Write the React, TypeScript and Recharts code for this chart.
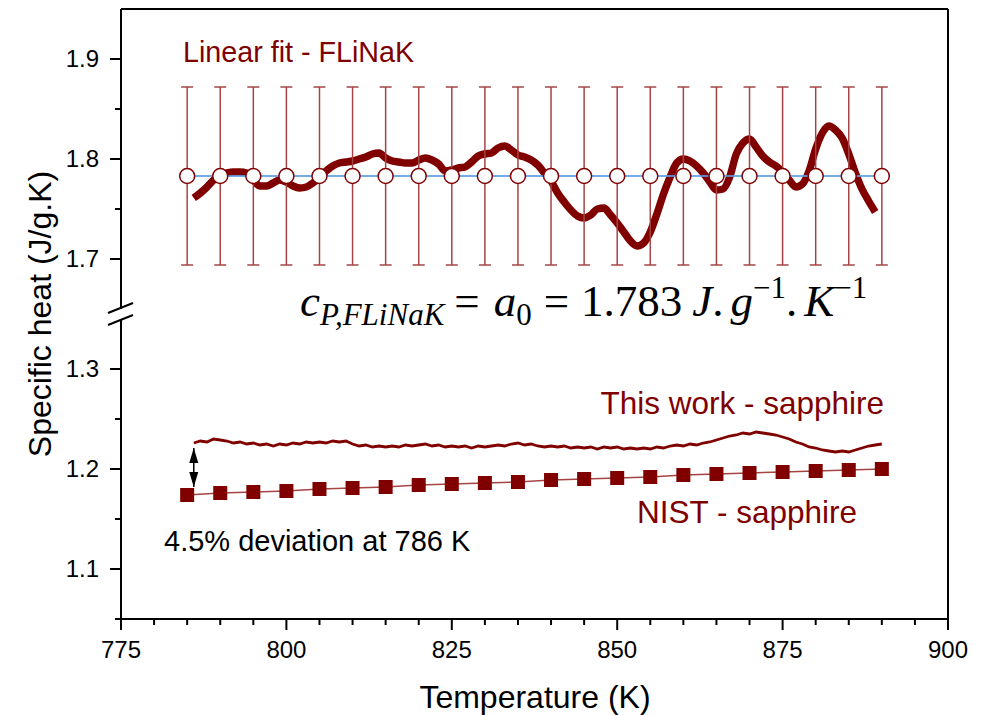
import React from 'react';
import { ComposedChart, Line, Scatter, XAxis, YAxis, ErrorBar, ReferenceLine } from 'recharts';

// ---------- data ----------
const FIT_T = [785, 790, 795, 800, 805, 810, 815, 820, 825, 830, 835, 840, 845, 850, 855, 860, 865, 870, 875, 880, 885, 890];
const FIT_CP = 1.783;
const FIT_ERR = 0.089;

const FLINAK_T = [786, 787, 788, 789, 790, 791, 792, 793, 794, 795, 796, 797, 798, 799, 800, 801, 802, 803, 804, 805, 806, 807, 808, 809, 810, 811, 812, 813, 814, 815, 816, 817, 818, 819, 820, 821, 822, 823, 824, 825, 826, 827, 828, 829, 830, 831, 832, 833, 834, 835, 836, 837, 838, 839, 840, 841, 842, 843, 844, 845, 846, 847, 848, 849, 850, 851, 852, 853, 854, 855, 856, 857, 858, 859, 860, 861, 862, 863, 864, 865, 866, 867, 868, 869, 870, 871, 872, 873, 874, 875, 876, 877, 878, 879, 880, 881, 882, 883, 884, 885, 886, 887, 888, 889];
const FLINAK_CP = [1.761, 1.766, 1.772, 1.779, 1.784, 1.786, 1.787, 1.787, 1.786, 1.779, 1.773, 1.773, 1.776, 1.779, 1.777, 1.773, 1.771, 1.772, 1.776, 1.781, 1.788, 1.793, 1.796, 1.797, 1.798, 1.800, 1.802, 1.805, 1.806, 1.801, 1.798, 1.797, 1.796, 1.796, 1.799, 1.801, 1.799, 1.795, 1.788, 1.789, 1.791, 1.792, 1.797, 1.803, 1.805, 1.806, 1.811, 1.813, 1.809, 1.804, 1.802, 1.799, 1.794, 1.786, 1.778, 1.766, 1.757, 1.749, 1.743, 1.741, 1.744, 1.750, 1.751, 1.744, 1.736, 1.727, 1.718, 1.713, 1.716, 1.727, 1.745, 1.765, 1.782, 1.796, 1.800, 1.798, 1.793, 1.786, 1.777, 1.769, 1.770, 1.782, 1.805, 1.816, 1.820, 1.812, 1.803, 1.797, 1.793, 1.787, 1.779, 1.772, 1.775, 1.788, 1.810, 1.826, 1.833, 1.829, 1.821, 1.805, 1.786, 1.770, 1.758, 1.747];

const SAPPHIRE_T = [786, 787, 788, 789, 790, 791, 792, 793, 794, 795, 796, 797, 798, 799, 800, 801, 802, 803, 804, 805, 806, 807, 808, 809, 810, 811, 812, 813, 814, 815, 816, 817, 818, 819, 820, 821, 822, 823, 824, 825, 826, 827, 828, 829, 830, 831, 832, 833, 834, 835, 836, 837, 838, 839, 840, 841, 842, 843, 844, 845, 846, 847, 848, 849, 850, 851, 852, 853, 854, 855, 856, 857, 858, 859, 860, 861, 862, 863, 864, 865, 866, 867, 868, 869, 870, 871, 872, 873, 874, 875, 876, 877, 878, 879, 880, 881, 882, 883, 884, 885, 886, 887, 888, 889, 890];
const SAPPHIRE_CP = [1.226, 1.228, 1.227, 1.230, 1.229, 1.228, 1.226, 1.227, 1.225, 1.226, 1.224, 1.225, 1.223, 1.225, 1.224, 1.226, 1.225, 1.227, 1.226, 1.227, 1.226, 1.228, 1.227, 1.228, 1.225, 1.223, 1.224, 1.222, 1.223, 1.222, 1.223, 1.222, 1.224, 1.223, 1.224, 1.225, 1.223, 1.224, 1.222, 1.223, 1.222, 1.223, 1.221, 1.223, 1.222, 1.223, 1.224, 1.223, 1.225, 1.226, 1.224, 1.225, 1.223, 1.222, 1.223, 1.222, 1.223, 1.221, 1.222, 1.221, 1.222, 1.220, 1.222, 1.221, 1.222, 1.220, 1.221, 1.220, 1.221, 1.220, 1.222, 1.221, 1.223, 1.224, 1.223, 1.225, 1.224, 1.226, 1.227, 1.229, 1.231, 1.233, 1.234, 1.236, 1.235, 1.237, 1.236, 1.235, 1.234, 1.232, 1.230, 1.227, 1.225, 1.222, 1.221, 1.219, 1.218, 1.217, 1.218, 1.217, 1.219, 1.221, 1.223, 1.224, 1.225];

const NIST_T = [785, 790, 795, 800, 805, 810, 815, 820, 825, 830, 835, 840, 845, 850, 855, 860, 865, 870, 875, 880, 885, 890];
const NIST_CP = [1.174, 1.176, 1.177, 1.178, 1.180, 1.181, 1.182, 1.184, 1.185, 1.186, 1.187, 1.189, 1.190, 1.191, 1.192, 1.194, 1.195, 1.196, 1.197, 1.198, 1.199, 1.200];

const ARROW_T = 786;
const ARROW_TOP = 1.221;
const ARROW_BOTTOM = 1.182;

const X_TICKS = [775, 780, 785, 790, 795, 800, 805, 810, 815, 820, 825, 830, 835, 840, 845, 850, 855, 860, 865, 870, 875, 880, 885, 890, 895, 900];
const X_LABELS = [775, 800, 825, 850, 875, 900];
const Y_TICKS_UPPER = [1.7, 1.75, 1.8, 1.85, 1.9];
const Y_TICKS_LOWER = [1.05, 1.1, 1.15, 1.2, 1.25, 1.3];
const Y_LABELS = [1.1, 1.2, 1.3, 1.7, 1.8, 1.9];

// ---------- derived tables ----------
const fitData = FIT_T.map((T) => ({ T, cp: FIT_CP, err: FIT_ERR }));
const flinakData = FLINAK_T.map((T, i) => ({ T, cp: FLINAK_CP[i] }));
const sapphireData = SAPPHIRE_T.map((T, i) => ({ T, cp: SAPPHIRE_CP[i] }));
const nistData = NIST_T.map((T, i) => ({ T, cp: NIST_CP[i] }));
const arrowData = [{ T: ARROW_T, cp: ARROW_TOP }, { T: ARROW_T, cp: ARROW_BOTTOM }];
const arrowTopData = [{ T: ARROW_T, cp: ARROW_TOP }];
const arrowBottomData = [{ T: ARROW_T, cp: ARROW_BOTTOM }];

const SANS = "'Liberation Sans', Arial, Helvetica, sans-serif";
const SERIF = "'Liberation Serif', 'Times New Roman', serif";
const RED = '#800000';
const BAR_RED = '#a64444';

const XTick = (props: any) => {
  const { x, y, payload } = props;
  const v = payload.value;
  const major = X_LABELS.includes(v);
  return (
    <g>
      <line x1={x} x2={x} y1={y} y2={y + (major ? 11 : 6)} stroke="#000" strokeWidth={2} />
      {major && (
        <text x={x} y={y + 39} textAnchor="middle" fontSize={24} fontFamily={SANS} fill="#000">
          {v}
        </text>
      )}
    </g>
  );
};

const YTick = (props: any) => {
  const { x, y, payload } = props;
  const v = payload.value;
  const major = Y_LABELS.includes(v);
  return (
    <g>
      <line x1={x - (major ? 11 : 6)} x2={x} y1={y} y2={y} stroke="#000" strokeWidth={2} />
      {major && (
        <text x={x - 22} y={y} dy="0.35em" textAnchor="end" fontSize={24} fontFamily={SANS} fill="#000">
          {v.toFixed(1)}
        </text>
      )}
    </g>
  );
};

const OpenCircle = (props: any) => {
  const { cx, cy } = props;
  return <circle cx={cx} cy={cy} r={7.5} fill="#fff" stroke={RED} strokeWidth={1.5} />;
};

const Square = (props: any) => {
  const { cx, cy } = props;
  return <rect x={cx - 7} y={cy - 7} width={14} height={14} fill={RED} />;
};

const HeadUp = (props: any) => {
  const { cx, cy } = props;
  return <polygon points={`${cx},${cy} ${cx - 4.5},${cy + 15} ${cx + 4.5},${cy + 15}`} fill="#000" />;
};

const HeadDown = (props: any) => {
  const { cx, cy } = props;
  return <polygon points={`${cx},${cy} ${cx - 4.5},${cy - 15} ${cx + 4.5},${cy - 15}`} fill="#000" />;
};

const axisLine = { stroke: '#000', strokeWidth: 2 };

export default function App() {
  return (
    <div style={{ position: 'absolute', left: 0, top: 0, width: 992, height: 715, background: '#fff', overflow: 'hidden' }}>
      {/* upper panel */}
      <div style={{ position: 'absolute', left: 0, top: 0 }}>
        <ComposedChart width={992} height={314} margin={{ top: 9, right: 44, bottom: 0, left: 0 }}>
          <XAxis type="number" dataKey="T" domain={[775, 900]} allowDataOverflow hide />
          <YAxis
            type="number"
            domain={[1.645, 1.95]}
            allowDataOverflow
            ticks={Y_TICKS_UPPER}
            interval={0}
            width={121}
            tickSize={0}
            tickMargin={0}
            tickLine={false}
            axisLine={axisLine}
            tick={<YTick />}
          />
          <ReferenceLine y={1.95} stroke="#000" strokeWidth={2} ifOverflow="visible" />
          <ReferenceLine x={900} stroke="#000" strokeWidth={2} ifOverflow="visible" />
          <Line data={flinakData} dataKey="cp" type="monotone" stroke={RED} strokeWidth={7.5} dot={false} isAnimationActive={false} strokeLinecap="butt" strokeLinejoin="round" />
          <Line data={fitData} dataKey="cp" stroke="#5b9be6" strokeOpacity={0.85} strokeWidth={2} dot={false} isAnimationActive={false} />
          <Scatter data={fitData} dataKey="cp" shape={<OpenCircle />} isAnimationActive={false}>
            <ErrorBar dataKey="err" direction="y" width={6} stroke={BAR_RED} strokeWidth={1.5} />
          </Scatter>
        </ComposedChart>
      </div>

      {/* lower panel */}
      <div style={{ position: 'absolute', left: 0, top: 314 }}>
        <ComposedChart width={992} height={401} margin={{ top: 0, right: 44, bottom: 0, left: 0 }}>
          <XAxis
            type="number"
            dataKey="T"
            domain={[775, 900]}
            allowDataOverflow
            ticks={X_TICKS}
            interval={0}
            height={96}
            tickSize={0}
            tickMargin={0}
            tickLine={false}
            axisLine={axisLine}
            tick={<XTick />}
          />
          <YAxis
            type="number"
            domain={[1.05, 1.355]}
            allowDataOverflow
            ticks={Y_TICKS_LOWER}
            interval={0}
            width={121}
            tickSize={0}
            tickMargin={0}
            tickLine={false}
            axisLine={axisLine}
            tick={<YTick />}
          />
          <ReferenceLine x={900} stroke="#000" strokeWidth={2} ifOverflow="visible" />
          <Line data={sapphireData} dataKey="cp" stroke={RED} strokeWidth={2.8} dot={false} isAnimationActive={false} />
          <Line data={nistData} dataKey="cp" stroke={BAR_RED} strokeWidth={1.5} dot={false} isAnimationActive={false} />
          <Scatter data={nistData} dataKey="cp" shape={<Square />} isAnimationActive={false} />
          <Line data={arrowData} dataKey="cp" stroke="#000" strokeWidth={1.5} dot={false} isAnimationActive={false} />
          <Scatter data={arrowTopData} dataKey="cp" shape={<HeadUp />} isAnimationActive={false} />
          <Scatter data={arrowBottomData} dataKey="cp" shape={<HeadDown />} isAnimationActive={false} />
        </ComposedChart>
      </div>

      {/* annotations overlay */}
      <svg width={992} height={715} style={{ position: 'absolute', left: 0, top: 0, pointerEvents: 'none' }}>
        {/* axis break */}
        <rect x={116} y={309} width={10} height={10} fill="#fff" />
        <line x1={108} y1={313} x2={133} y2={303} stroke="#000" strokeWidth={2} />
        <line x1={108} y1={325} x2={133} y2={315} stroke="#000" strokeWidth={2} />

        <text x={183} y={62} fontSize={28.7} fontFamily={SANS} fill={RED}>Linear fit - FLiNaK</text>
        <text x={884} y={414} fontSize={31.5} fontFamily={SANS} fill={RED} textAnchor="end">This work - sapphire</text>
        <text x={637} y={523} fontSize={31.5} fontFamily={SANS} fill={RED}>NIST - sapphire</text>
        <text x={164} y={551} fontSize={29} fontFamily={SANS} fill="#000">4.5% deviation at 786 K</text>

        <text x={300} y={316} fontSize={45} fontFamily={SERIF} fill="#000">
          <tspan fontStyle="italic">c</tspan>
          <tspan fontStyle="italic" fontSize={31} dy={9}>P,FLiNaK</tspan>
          <tspan dy={-9} dx={10}>=</tspan>
          <tspan dx={14} fontStyle="italic">a</tspan>
          <tspan fontSize={31} dy={9}>0</tspan>
          <tspan dy={-9} dx={12}>=</tspan>
          <tspan dx={12}>1.783</tspan>
          <tspan dx={10} fontStyle="italic">J</tspan>
          <tspan>.</tspan>
          <tspan dx={7} fontStyle="italic">g</tspan>
          <tspan fontSize={31} dy={-18}>−1</tspan>
          <tspan dy={18}>.</tspan>
          <tspan dx={7} fontStyle="italic">K</tspan>
          <tspan fontSize={31} dy={-18}>−1</tspan>
        </text>

        <text
          x={51}
          y={314}
          transform="rotate(-90, 51, 314)"
          textAnchor="middle"
          fontSize={32}
          fontFamily={SANS}
          fill="#000"
        >
          Specific heat (J/g.K)
        </text>
        <text x={535} y={708} textAnchor="middle" fontSize={32} fontFamily={SANS} fill="#000">
          Temperature (K)
        </text>
      </svg>
    </div>
  );
}
